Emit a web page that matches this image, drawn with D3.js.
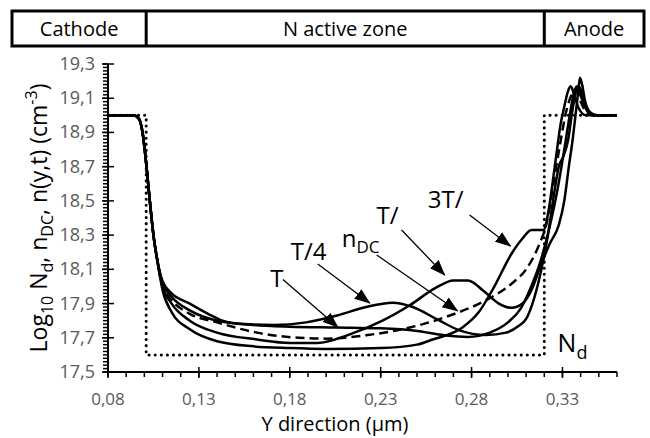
<!DOCTYPE html>
<html>
<head>
<meta charset="utf-8">
<script src="https://cdn.jsdelivr.net/npm/d3@7"></script>
<style>
  body { margin: 0; background: #fff; }
  svg text { font-family: "Open Sans", sans-serif; }
</style>
</head>
<body>
<div id="chart"></div>
<script>
// SVG container
var svgWidth = 650;
var svgHeight = 438;

// Plot area (pixels)
var plot = { left: 108, right: 617, top: 64, bottom: 372 };

// Zones in the header bar (inner borders follow the doping steps)
var zoneNames = ["Cathode", "N active zone", "Anode"];
var zoneBorders = [0.101, 0.32];

// Tick values
var xTicks = [0.08, 0.13, 0.18, 0.23, 0.28, 0.33];
var yTicks = [17.5, 17.7, 17.9, 18.1, 18.3, 18.5, 18.7, 18.9, 19.1, 19.3];

// Doping profile Nd (dotted)
var ndProfile = [[0.08, 19.0], [0.101, 19.0], [0.101, 17.6], [0.32, 17.6], [0.32, 19.0], [0.36, 19.0]];

// shared start of every curve (cathode side)
var cathodeStart = [[0.08, 19.0], [0.094, 19.0], [0.097, 18.98], [0.099, 18.9], [0.101, 18.72],
                    [0.103, 18.5], [0.105, 18.3], [0.107, 18.16]];

// n(y,t) at t = T/4
var nT4 = [[0.11, 18.03], [0.115, 17.96], [0.125, 17.9], [0.135, 17.84], [0.143, 17.8], [0.155, 17.78],
           [0.171, 17.775], [0.189, 17.79], [0.206, 17.83], [0.222, 17.88], [0.2366, 17.905], [0.2476, 17.88],
           [0.2624, 17.8], [0.273, 17.745], [0.288, 17.716], [0.299, 17.73], [0.306, 17.77], [0.31, 17.81],
           [0.3135, 17.9], [0.318, 18.08], [0.322, 18.3], [0.3255, 18.55], [0.328, 18.7], [0.3305, 18.76],
           [0.333, 18.85], [0.3355, 19.03], [0.3375, 19.14], [0.339, 19.17], [0.341, 19.12], [0.344, 19.03],
           [0.348, 19.0], [0.36, 19.0]];

// t = T/2
var nT2 = [[0.11, 18.0], [0.115, 17.9], [0.125, 17.8], [0.14, 17.73], [0.162, 17.69], [0.18, 17.67],
           [0.195, 17.67], [0.213, 17.72], [0.231, 17.8], [0.246, 17.89], [0.26, 17.99], [0.27, 18.035],
           [0.278, 18.035], [0.287, 17.97], [0.295, 17.9], [0.302, 17.875], [0.308, 17.9], [0.313, 17.98],
           [0.318, 18.12], [0.323, 18.25], [0.328, 18.36], [0.331, 18.5], [0.3335, 18.7], [0.3355, 18.85],
           [0.3375, 19.03], [0.3388, 19.15], [0.3396, 19.22], [0.3408, 19.18], [0.3425, 19.08], [0.345, 19.02],
           [0.349, 19.0], [0.36, 19.0]];

// t = 3T/4
var n3T4 = [[0.11, 17.98], [0.115, 17.85], [0.125, 17.75], [0.14, 17.68], [0.16, 17.65], [0.18, 17.64],
            [0.2, 17.635], [0.23, 17.64], [0.25, 17.66], [0.2586, 17.69], [0.275, 17.76], [0.284, 17.85],
            [0.2915, 17.98], [0.3025, 18.2], [0.308, 18.28], [0.313, 18.33], [0.3195, 18.33], [0.322, 18.42],
            [0.3245, 18.6], [0.327, 18.8], [0.329, 18.95], [0.331, 19.05], [0.333, 19.14], [0.3345, 19.17],
            [0.3365, 19.12], [0.339, 19.04], [0.343, 19.0], [0.36, 19.0]];

// t = T
var nT = [[0.11, 18.02], [0.115, 17.94], [0.125, 17.86], [0.14, 17.8], [0.16, 17.775], [0.18, 17.765],
          [0.206, 17.76], [0.23, 17.755], [0.25, 17.74], [0.265, 17.715], [0.278, 17.705], [0.29, 17.73],
          [0.3, 17.79], [0.307, 17.87], [0.312, 17.98], [0.318, 18.15], [0.323, 18.35], [0.327, 18.55],
          [0.331, 18.8], [0.334, 19.0], [0.3365, 19.14], [0.338, 19.17], [0.3405, 19.1], [0.344, 19.02],
          [0.348, 19.0], [0.36, 19.0]];

// static nDC (dashed)
var nDC = [[0.11, 18.0], [0.115, 17.92], [0.125, 17.84], [0.14, 17.79], [0.162, 17.73], [0.185, 17.7],
           [0.2, 17.695], [0.222, 17.715], [0.246, 17.76], [0.268, 17.83], [0.288, 17.92], [0.3025, 18.02],
           [0.31, 18.1], [0.317, 18.24], [0.3215, 18.38], [0.325, 18.6], [0.3285, 18.82], [0.332, 19.02],
           [0.3355, 19.13], [0.3375, 19.15], [0.34, 19.08], [0.344, 19.01], [0.348, 19.0], [0.36, 19.0]];

// Annotations: label text, text anchor point, arrow start, arrow end (data units)
var annotations = [
  { text: "T",   at: [0.1729, 17.997], from: [0.1762, 18.04],  to: [0.2064, 17.763] },
  { text: "T/4", at: [0.1904, 18.155], from: [0.1954, 18.131], to: [0.224, 17.903] },
  { text: "T/",  at: [0.2338, 18.365], from: [0.2415, 18.33],  to: [0.2652, 18.067] },
  { text: "3T/", at: [0.2657, 18.458], from: [0.2789, 18.418], to: [0.3014, 18.236] }
];
var ndcLabelAt = [0.2086, 18.23];
var ndcArrow = { from: [0.2278, 18.184], to: [0.2723, 17.857] };
var ndLabelAt = [0.3273, 17.617];

// Scales
var xScale = d3.scaleLinear().domain([0.08, 0.36]).range([plot.left, plot.right]);
var yScale = d3.scaleLinear().domain([17.5, 19.3]).range([plot.bottom, plot.top]);

var svg = d3.select("#chart").append("svg")
            .attr("width", svgWidth)
            .attr("height", svgHeight);

svg.append("defs").append("marker")
   .attr("id", "head")
   .attr("markerUnits", "userSpaceOnUse")
   .attr("viewBox", "0 0 16 12")
   .attr("refX", 15).attr("refY", 6)
   .attr("markerWidth", 16).attr("markerHeight", 12)
   .attr("orient", "auto")
   .append("path")
   .attr("d", "M0,0 L16,6 L0,12 Z")
   .attr("fill", "#000");

// ----------------- Header bar -----------------
var boxLeft = 12, boxRight = 644;
var edges = [boxLeft].concat(zoneBorders.map(xScale), [boxRight]);
var header = svg.append("g");
header.append("rect")
      .attr("x", boxLeft).attr("y", 11)
      .attr("width", boxRight - boxLeft).attr("height", 35)
      .attr("fill", "none").attr("stroke", "#000").attr("stroke-width", 3);
header.selectAll("line")
      .data(zoneBorders)
      .enter().append("line")
      .attr("x1", d => xScale(d)).attr("x2", d => xScale(d))
      .attr("y1", 11).attr("y2", 46)
      .attr("stroke", "#000").attr("stroke-width", 3);
header.selectAll("text")
      .data(zoneNames)
      .enter().append("text")
      .attr("x", (d, i) => (edges[i] + edges[i + 1]) / 2)
      .attr("y", 36)
      .attr("text-anchor", "middle")
      .attr("font-size", "20px")
      .text(d => d);

// ----------------- Axes -----------------
var comma = f => (v => f(v).replace(".", ","));

var xMinor = d3.range(0.08, 0.3601, 0.01);
var yMinor = d3.range(17.5, 19.301, 0.02);

var gx = svg.append("g").attr("transform", `translate(0, ${plot.bottom})`);
gx.selectAll("line.minor").data(xMinor).enter().append("line")
  .attr("x1", d => xScale(d)).attr("x2", d => xScale(d))
  .attr("y1", 0).attr("y2", 5)
  .attr("stroke", "#000").attr("stroke-width", 1.5);
gx.selectAll("line.major").data(xTicks).enter().append("line")
  .attr("x1", d => xScale(d)).attr("x2", d => xScale(d))
  .attr("y1", -5).attr("y2", 6)
  .attr("stroke", "#000").attr("stroke-width", 1.5);
gx.append("line")
  .attr("x1", plot.left).attr("x2", plot.right)
  .attr("stroke", "#000").attr("stroke-width", 2);
gx.selectAll("text").data(xTicks).enter().append("text")
  .attr("x", d => xScale(d)).attr("y", 33)
  .attr("text-anchor", "middle")
  .attr("font-size", "17px")
  .attr("fill", "#595959")
  .text(comma(d3.format(".2f")));

var gy = svg.append("g").attr("transform", `translate(${plot.left}, 0)`);
gy.selectAll("line.minor").data(yMinor).enter().append("line")
  .attr("y1", d => yScale(d)).attr("y2", d => yScale(d))
  .attr("x1", -5).attr("x2", 0)
  .attr("stroke", "#000").attr("stroke-width", 1.5);
gy.selectAll("line.major").data(yTicks).enter().append("line")
  .attr("y1", d => yScale(d)).attr("y2", d => yScale(d))
  .attr("x1", -6).attr("x2", 6)
  .attr("stroke", "#000").attr("stroke-width", 1.5);
gy.append("line")
  .attr("y1", plot.top).attr("y2", plot.bottom)
  .attr("stroke", "#000").attr("stroke-width", 2);
gy.selectAll("text").data(yTicks).enter().append("text")
  .attr("x", -13).attr("y", d => yScale(d) + 6)
  .attr("text-anchor", "end")
  .attr("font-size", "18px")
  .attr("fill", "#595959")
  .text(comma(d3.format(".1f")));

// Axis titles
svg.append("text")
   .attr("x", 335).attr("y", 431)
   .attr("text-anchor", "middle")
   .attr("font-size", "20px")
   .text("Y direction (µm)");

var yTitle = svg.append("text")
   .attr("transform", `translate(47, ${(plot.top + plot.bottom) / 2}) rotate(-90)`)
   .attr("text-anchor", "middle")
   .attr("font-size", "23px");
[["Log", 0, 23], ["10", 6, 16], [" N", -6, 23], ["d", 6, 16], [", n", -6, 23], ["DC", 6, 16],
 [", n(y,t)  (cm", -6, 23], ["-3", -10, 16], [")", 10, 23]].forEach(p => {
  yTitle.append("tspan").attr("dy", p[1]).attr("font-size", p[2] + "px").text(p[0]);
});

// ----------------- Curves -----------------
var line = d3.line()
             .x(d => xScale(d[0]))
             .y(d => yScale(d[1]))
             .curve(d3.curveMonotoneX);

svg.append("path")
   .datum(ndProfile)
   .attr("d", d3.line().x(d => xScale(d[0])).y(d => yScale(d[1])))
   .attr("fill", "none")
   .attr("stroke", "#000")
   .attr("stroke-width", 3)
   .attr("stroke-linecap", "round")
   .attr("stroke-dasharray", "0.1 6");

[nT4, nT2, n3T4, nT].forEach(s => {
  svg.append("path")
     .datum(cathodeStart.concat(s))
     .attr("d", line)
     .attr("fill", "none")
     .attr("stroke", "#000")
     .attr("stroke-width", 2.5);
});

svg.append("path")
   .datum(cathodeStart.concat(nDC))
   .attr("d", line)
   .attr("fill", "none")
   .attr("stroke", "#000")
   .attr("stroke-width", 2.5)
   .attr("stroke-dasharray", "9 5");

// ----------------- Labels and arrows -----------------
var arrows = annotations.map(a => ({ from: a.from, to: a.to })).concat([ndcArrow]);
svg.selectAll("line.arrow").data(arrows).enter().append("line")
   .attr("x1", d => xScale(d.from[0])).attr("y1", d => yScale(d.from[1]))
   .attr("x2", d => xScale(d.to[0])).attr("y2", d => yScale(d.to[1]))
   .attr("stroke", "#000").attr("stroke-width", 1.3)
   .attr("marker-end", "url(#head)");

svg.selectAll("text.lab").data(annotations).enter().append("text")
   .attr("x", d => xScale(d.at[0])).attr("y", d => yScale(d.at[1]))
   .attr("text-anchor", "middle")
   .attr("font-size", "24px")
   .text(d => d.text);

var ndc = svg.append("text")
   .attr("x", xScale(ndcLabelAt[0])).attr("y", yScale(ndcLabelAt[1]))
   .attr("font-size", "24px");
ndc.append("tspan").text("n");
ndc.append("tspan").attr("dy", 6).attr("font-size", "17px").text("DC");

var nd = svg.append("text")
   .attr("x", xScale(ndLabelAt[0])).attr("y", yScale(ndLabelAt[1]))
   .attr("font-size", "25px");
nd.append("tspan").text("N");
nd.append("tspan").attr("dy", 7).attr("font-size", "18px").text("d");
</script>
</body>
</html>
